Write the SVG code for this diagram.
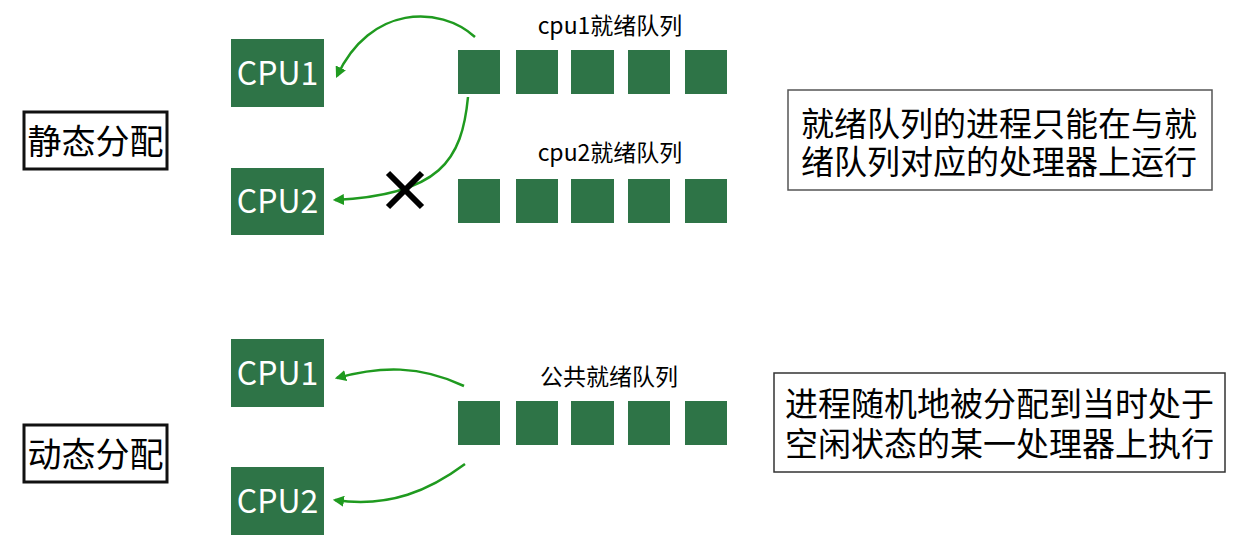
<svg xmlns="http://www.w3.org/2000/svg" width="1242" height="543" viewBox="0 0 1242 543">
<style>
.cpu{fill:#2e7447}
.q{fill:#2e7447}
.cput{fill:#fff;font-family:"Noto Sans CJK SC","Open Sans",sans-serif;font-size:32px;text-anchor:middle}
.lbl{fill:#000;font-family:"Noto Sans CJK SC",sans-serif;font-size:23px;text-anchor:middle}
.big{fill:#000;font-family:"Noto Sans CJK SC",sans-serif;font-size:33px;text-anchor:middle}
.side{fill:#000;font-family:"Noto Sans CJK SC",sans-serif;font-size:34px;text-anchor:middle}
.arr{fill:none;stroke:#1f9a1f;stroke-width:2.5;marker-end:url(#ah)}
</style>
<defs>
<marker id="ah" viewBox="0 0 10 10" refX="8" refY="5" markerWidth="4.5" markerHeight="4.5" orient="auto" markerUnits="strokeWidth">
<path d="M0,0 L10,5 L0,10 z" fill="#1f9a1f"/>
</marker>
</defs>
<rect width="1242" height="543" fill="#fff"/>

<g id="static-label">
<rect x="24" y="112" width="143" height="57" fill="#fff" stroke="#111" stroke-width="3"/>
<text class="side" x="95.5" y="154">静态分配</text>
</g>
<g id="dynamic-label">
<rect x="24" y="425" width="143" height="57" fill="#fff" stroke="#111" stroke-width="3"/>
<text class="side" x="95.5" y="467">动态分配</text>
</g>

<g id="s-cpu1"><rect class="cpu" x="231" y="39" width="93" height="68"/><text class="cput" x="277.5" y="85">CPU1</text></g>
<g id="s-cpu2"><rect class="cpu" x="231" y="168" width="93" height="67"/><text class="cput" x="277.5" y="213">CPU2</text></g>

<g id="s-q1">
<text class="lbl" x="610" y="34">cpu1就绪队列</text>
<rect class="q" x="458" y="50" width="42" height="44"/>
<rect class="q" x="516" y="50" width="42" height="44"/>
<rect class="q" x="571" y="50" width="43" height="44"/>
<rect class="q" x="628" y="50" width="42" height="44"/>
<rect class="q" x="685" y="50" width="42" height="44"/>
</g>
<g id="s-q2">
<text class="lbl" x="610" y="161">cpu2就绪队列</text>
<rect class="q" x="458" y="179" width="42" height="44"/>
<rect class="q" x="516" y="179" width="42" height="44"/>
<rect class="q" x="571" y="179" width="43" height="44"/>
<rect class="q" x="628" y="179" width="42" height="44"/>
<rect class="q" x="685" y="179" width="42" height="44"/>
</g>

<g id="static-note">
<rect x="788" y="90" width="424" height="100" fill="#fff" stroke="#555" stroke-width="1.5"/>
<text class="big"><tspan x="999" y="136">就绪队列的进程只能在与就</tspan><tspan x="999" y="174">绪队列对应的处理器上运行</tspan></text>
</g>

<g id="d-cpu1"><rect class="cpu" x="231" y="339" width="93" height="68"/><text class="cput" x="277.5" y="385">CPU1</text></g>
<g id="d-cpu2"><rect class="cpu" x="231" y="467" width="93" height="68"/><text class="cput" x="277.5" y="513">CPU2</text></g>

<g id="d-q">
<text class="lbl" x="609" y="385">公共就绪队列</text>
<rect class="q" x="458" y="401" width="42" height="44"/>
<rect class="q" x="516" y="401" width="42" height="44"/>
<rect class="q" x="571" y="401" width="43" height="44"/>
<rect class="q" x="628" y="401" width="42" height="44"/>
<rect class="q" x="685" y="401" width="42" height="44"/>
</g>

<g id="dynamic-note">
<rect x="774" y="373" width="451" height="99" fill="#fff" stroke="#333" stroke-width="1.5"/>
<text class="big"><tspan x="999.5" y="416">进程随机地被分配到当时处于</tspan><tspan x="999.5" y="456">空闲状态的某一处理器上执行</tspan></text>
</g>

<g id="connectors">
<path class="arr" d="M475,37 C440,5 370,5 337,76"/>
<path class="arr" d="M468,97 C462,160 440,195 335,200"/>
<path class="arr" d="M464,386 C420,365 380,366 337,378"/>
<path class="arr" d="M465,464 C430,490 390,508 335,500"/>
<g id="cross" stroke="#000" stroke-width="6">
<line x1="388" y1="173" x2="422" y2="207"/>
<line x1="422" y1="173" x2="388" y2="207"/>
</g>
</g>
</svg>
